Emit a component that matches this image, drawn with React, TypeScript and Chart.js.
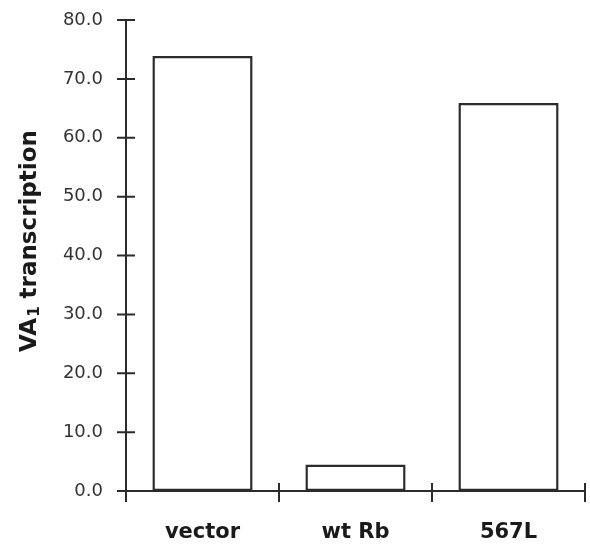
import { useEffect, useRef } from "react";
import { Chart, registerables } from "chart.js";

Chart.register(...registerables);

const categories = ["vector", "wt Rb", "567L"];
const values = [73.9, 4.5, 65.9];
const yTickLabels = ["0.0", "10.0", "20.0", "30.0", "40.0", "50.0", "60.0", "70.0", "80.0"];
const yTitleParts = ["VA", "1", " transcription"];
const yMin = 0;
const yMax = 80;
const yStep = 10;

const FONT = "'DejaVu Sans', 'Liberation Sans', Arial, sans-serif";
const INK = "#2b2b2b";

const axesPlugin = {
  id: "paperAxes",
  afterDatasetsDraw(chart: any) {
    const { ctx, chartArea, scales } = chart;
    const x = scales.x;
    const y = scales.y;
    const left = chartArea.left;
    const bottom = y.getPixelForValue(yMin);
    const top = y.getPixelForValue(yMax);
    const half = (x.getPixelForValue(1) - x.getPixelForValue(0)) / 2;
    ctx.save();
    ctx.strokeStyle = INK;
    ctx.lineWidth = 2;
    ctx.beginPath();
    ctx.moveTo(left, top - 1);
    ctx.lineTo(left, bottom + 11);
    ctx.moveTo(left - 8, bottom);
    ctx.lineTo(chartArea.right, bottom);
    y.ticks.forEach((t: any) => {
      const py = y.getPixelForValue(t.value);
      ctx.moveTo(left - 9, py);
      ctx.lineTo(left + 9, py);
    });
    categories.forEach((_, i) => {
      const px = x.getPixelForValue(i) + half;
      ctx.moveTo(px, bottom - 8);
      ctx.lineTo(px, bottom + 11);
    });
    ctx.stroke();
    ctx.restore();
  },
  afterDraw(chart: any) {
    const { ctx } = chart;
    const big = `bold 23px ${FONT}`;
    const small = `bold 15px ${FONT}`;
    ctx.save();
    ctx.translate(30, 241);
    ctx.rotate(-Math.PI / 2);
    ctx.fillStyle = "#1a1a1a";
    ctx.textAlign = "left";
    ctx.textBaseline = "middle";
    ctx.font = big;
    const w0 = ctx.measureText(yTitleParts[0]).width;
    const w2 = ctx.measureText(yTitleParts[2]).width;
    ctx.font = small;
    const w1 = ctx.measureText(yTitleParts[1]).width + 1;
    let cx = -(w0 + w1 + w2) / 2;
    ctx.font = big;
    ctx.fillText(yTitleParts[0], cx, 0);
    cx += w0;
    ctx.font = small;
    ctx.fillText(yTitleParts[1], cx + 1, 5);
    cx += w1;
    ctx.font = big;
    ctx.fillText(yTitleParts[2], cx, 0);
    ctx.restore();
  },
};

export default function App() {
  const ref = useRef<HTMLCanvasElement | null>(null);

  useEffect(() => {
    if (!ref.current) return;
    const chart = new Chart(ref.current, {
      type: "bar",
      data: {
        labels: categories,
        datasets: [
          {
            data: values,
            backgroundColor: "#ffffff",
            borderColor: INK,
            borderWidth: 2.5,
            borderSkipped: false,
            barPercentage: 0.655,
            categoryPercentage: 1,
          },
        ],
      },
      options: {
        animation: false,
        responsive: false,
        maintainAspectRatio: false,
        layout: { padding: { top: 20, right: 5, left: 0, bottom: 0 } },
        plugins: {
          legend: { display: false },
          tooltip: { enabled: false },
          title: { display: false },
        },
        scales: {
          x: {
            type: "category",
            offset: true,
            grid: { display: false, drawTicks: false },
            border: { display: false },
            ticks: {
              padding: 29,
              color: "#1a1a1a",
              font: { family: FONT, size: 21, weight: "bold" },
              maxRotation: 0,
            },
            afterFit(scale: any) {
              scale.height = 53;
            },
          },
          y: {
            min: yMin,
            max: yMax,
            grid: { display: false, drawTicks: false },
            border: { display: false },
            ticks: {
              stepSize: yStep,
              padding: 23,
              color: "#333333",
              font: { family: FONT, size: 18 },
              callback: (_v: any, i: number) => yTickLabels[i],
            },
            afterFit(scale: any) {
              scale.width = 126;
              scale.paddingTop = 10;
              scale.paddingBottom = 10;
            },
          },
        },
      },
      plugins: [axesPlugin],
    });
    return () => chart.destroy();
  }, []);

  return (
    <div style={{ position: "absolute", left: 0, top: 0, width: 590, height: 544, background: "#fff" }}>
      <canvas ref={ref} width={590} height={544} />
    </div>
  );
}
